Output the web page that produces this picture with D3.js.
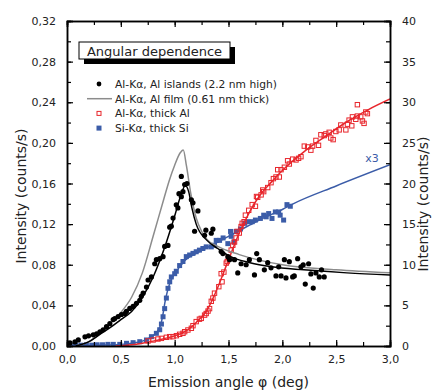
<!DOCTYPE html>
<html lang="en">
<head>
    <meta charset="UTF-8">
    <title>Angular dependence</title>
    <script src="https://d3js.org/d3.v7.min.js"></script>
    <style>
        body { margin: 0; background: #fff; }
        text { font-family: "DejaVu Sans", Verdana, sans-serif; fill: #222; }
    </style>
</head>
<body>
<svg id="chart" width="432" height="392"></svg>
<script>
// ---- data ----
// Al-Ka, Al islands (dots), left axis
var islandPhi = [0.028,0.074,0.105,0.167,0.20,0.244,0.275,0.306,0.336,0.367,0.398,0.429,0.444,0.475,0.506,0.537,0.552,0.583,0.614,0.645,0.676,0.69,0.707,0.738,0.753,0.784,0.815,0.83,0.861,0.892,0.907,0.938,0.954,0.969,0.985,1.015,1.03,1.04,1.062,1.062,1.077,1.093,1.114,1.155,1.17,1.185,1.216,1.278,1.29,1.34,1.355,1.432,1.448,1.494,1.51,1.556,1.586,1.617,1.664,1.694,1.741,1.762,1.787,1.833,1.864,1.895,1.941,1.966,1.988,2.019,2.034,2.065,2.096,2.111,2.142,2.173,2.194,2.213,2.244,2.265,2.287,2.312,2.343,2.364,2.389];
var islandI = [0.003,0.004,0.006,0.009,0.010,0.011,0.012,0.014,0.016,0.019,0.022,0.026,0.027,0.029,0.031,0.032,0.034,0.037,0.039,0.042,0.045,0.049,0.052,0.058,0.065,0.068,0.081,0.085,0.086,0.088,0.098,0.099,0.117,0.118,0.126,0.139,0.136,0.150,0.147,0.167,0.152,0.159,0.160,0.144,0.141,0.113,0.133,0.109,0.114,0.111,0.115,0.093,0.091,0.088,0.085,0.085,0.072,0.081,0.080,0.085,0.070,0.091,0.085,0.075,0.082,0.077,0.069,0.078,0.069,0.085,0.067,0.083,0.068,0.069,0.086,0.078,0.080,0.061,0.081,0.071,0.057,0.072,0.068,0.075,0.068];

// fit through the islands (black line), left axis
var islandFitPhi = [0.08,0.2,0.3,0.4,0.5,0.6,0.7,0.8,0.9,1.0,1.05,1.1,1.13,1.16,1.2,1.3,1.4,1.5,1.7,1.9,2.2,2.6,3.0];
var islandFitI = [0.000,0.004,0.011,0.018,0.026,0.034,0.048,0.068,0.095,0.128,0.146,0.158,0.152,0.136,0.120,0.104,0.096,0.089,0.082,0.078,0.075,0.072,0.070];

// Al film 0.61 nm (grey line), left axis
var filmPhi = [0.08,0.2,0.3,0.4,0.5,0.6,0.7,0.8,0.9,0.95,1.0,1.05,1.08,1.11,1.15,1.2,1.25,1.3,1.4,1.6,2.0,2.5,3.0];
var filmI = [0.000,0.004,0.012,0.022,0.033,0.048,0.072,0.108,0.145,0.163,0.178,0.190,0.193,0.177,0.150,0.126,0.113,0.105,0.098,0.090,0.080,0.075,0.072];

// Al-Ka, thick Al (open red squares), right axis
var alPhi = [0.753,0.80,0.845,0.877,0.923,0.954,0.985,1.016,1.046,1.077,1.093,1.123,1.155,1.17,1.2,1.23,1.247,1.278,1.293,1.31,1.324,1.34,1.355,1.37,1.41,1.432,1.44,1.457,1.479,1.488,1.50,1.525,1.54,1.556,1.571,1.58,1.60,1.617,1.627,1.645,1.657,1.688,1.72,1.75,1.76,1.771,1.803,1.818,1.827,1.864,1.895,1.917,1.941,1.957,1.972,1.988,2.019,2.049,2.065,2.096,2.127,2.151,2.173,2.204,2.235,2.265,2.281,2.312,2.336,2.358,2.389,2.404,2.435,2.45,2.472,2.497,2.528,2.543,2.59,2.605,2.62,2.645,2.651,2.682,2.697,2.697,2.728,2.744,2.759,2.775,2.79];
var alC = [0.62,0.74,0.86,0.94,1.07,1.15,1.15,1.27,1.44,1.56,1.76,1.97,2.18,2.5,3.0,3.3,3.4,3.8,4.0,4.3,4.6,5.5,5.9,6.5,7.3,8.9,7.9,9.1,10.2,10.4,10.9,11.8,12.4,12.8,13.3,14.1,13.9,14.7,15.1,15.3,16.1,16.7,17.4,17.2,18.4,18.3,18.6,19.2,19.0,19.5,20.1,20.6,20.8,21.7,20.8,21.7,22.0,22.8,22.4,23.0,22.9,23.1,23.3,24.6,24.5,24.1,24.6,25.3,24.7,26.0,25.9,26.1,26.3,25.6,25.4,26.4,26.6,27.2,26.6,27.3,27.8,27.1,28.2,27.9,28.3,29.7,28.2,27.7,27.4,28.8,28.6];
var alFitPhi = [0.45,0.6,0.7,0.8,0.9,1.0,1.1,1.2,1.3,1.4,1.5,1.6,1.7,1.8,1.9,2.0,2.2,2.4,2.6,2.8,3.0];
var alFitC = [0.0,0.15,0.35,0.6,0.9,1.25,1.8,2.9,4.4,7.2,10.6,13.9,16.6,18.7,20.2,21.6,23.9,25.8,27.6,29.1,30.4];

// Si-Ka, thick Si (filled blue squares), right axis
var siPhi = [0.03,0.08,0.13,0.18,0.23,0.28,0.33,0.38,0.43,0.49,0.553,0.614,0.676,0.738,0.784,0.83,0.861,0.877,0.892,0.907,0.923,0.938,0.954,0.969,1.0,1.015,1.046,1.077,1.108,1.139,1.17,1.2,1.23,1.262,1.293,1.34,1.37,1.386,1.417,1.45,1.494,1.519,1.525,1.55,1.571,1.611,1.651,1.68,1.72,1.75,1.796,1.827,1.85,1.873,1.904,1.935,1.966,1.98,2.012,2.043,2.074];
var siC = [0.1,0.1,0.1,0.15,0.1,0.15,0.15,0.2,0.2,0.2,0.33,0.41,0.53,0.74,1.15,1.56,2.0,2.7,3.6,4.6,5.9,7.1,7.9,8.5,8.9,9.2,9.9,10.4,11.0,11.2,11.4,11.6,11.8,12.0,12.2,12.2,12.4,13.0,13.0,13.3,12.6,14.1,13.5,12.8,14.1,14.4,15.1,15.3,15.3,15.5,15.7,16.1,15.9,16.3,15.7,16.5,16.5,16.1,15.5,17.4,17.2];
var siFitPhi = [0.0,0.3,0.5,0.6,0.7,0.78,0.84,0.87,0.89,0.91,0.93,0.96,1.0,1.05,1.1,1.2,1.3,1.4,1.5,1.6,1.7,1.8,1.9,2.0,2.1,2.5,3.0];
var siFitC = [0.05,0.1,0.2,0.35,0.6,1.1,1.8,2.6,3.8,5.4,6.6,7.9,8.9,9.8,10.6,11.4,12.1,12.8,13.5,14.2,14.9,15.6,16.2,16.8,17.5,19.7,22.3];

// ticks and labels
var xTicks = [0, 0.5, 1, 1.5, 2, 2.5, 3];
var leftTicks = [0, 0.04, 0.08, 0.12, 0.16, 0.20, 0.24, 0.28, 0.32];
var rightTicks = [0, 5, 10, 15, 20, 25, 30, 35, 40];
var legendLabels = ["Al-K\u03b1, Al islands (2.2 nm high)", "Al-K\u03b1, Al film (0.61 nm thick)", "Al-K\u03b1, thick Al", "Si-K\u03b1, thick Si"];

var black = "#000", grey = "#8c8c8c", red = "#e8262c", blue = "#3b5ca8";

var margin = { top: 21, right: 42, bottom: 46, left: 67 },
    width = 432 - margin.left - margin.right,
    height = 392 - margin.top - margin.bottom;

var svg = d3.select("#chart");
var g = svg.append("g").attr("transform", "translate(" + margin.left + "," + margin.top + ")");

var x = d3.scaleLinear().domain([0, 3]).range([0, width]);
var yL = d3.scaleLinear().domain([0, 0.32]).range([height, 0]);
var yR = d3.scaleLinear().domain([0, 40]).range([height, 0]);

var comma = function(f) { return function(d) { return d3.format(f)(d).replace(".", ","); }; };

// clip
g.append("clipPath").attr("id", "clip").append("rect").attr("width", width).attr("height", height);
var plot = g.append("g").attr("clip-path", "url(#clip)");

function zip(a, b) { return a.map(function(v, i) { return [v, b[i]]; }); }
function drawLine(px, py, ys, color, w) {
    plot.append("path")
        .datum(zip(px, py))
        .attr("fill", "none")
        .attr("stroke", color)
        .attr("stroke-width", w)
        .attr("d", d3.line().x(d => x(d[0])).y(d => ys(d[1])).curve(d3.curveMonotoneX));
}

// blue Si
drawLine(siFitPhi, siFitC, yR, blue, 1.5);
plot.selectAll("rect.si").data(zip(siPhi, siC)).enter().append("rect")
    .attr("class", "si")
    .attr("x", d => x(d[0]) - 2.5).attr("y", d => yR(d[1]) - 2.5)
    .attr("width", 5).attr("height", 5)
    .attr("fill", blue);

// red Al thick
drawLine(alFitPhi, alFitC, yR, red, 1.5);
plot.selectAll("rect.al").data(zip(alPhi, alC)).enter().append("rect")
    .attr("class", "al")
    .attr("x", d => x(d[0]) - 2.2).attr("y", d => yR(d[1]) - 2.2)
    .attr("width", 4.4).attr("height", 4.4)
    .attr("fill", "none").attr("stroke", red).attr("stroke-width", 1);

// grey film, black fit, black dots
drawLine(filmPhi, filmI, yL, grey, 1.5);
drawLine(islandFitPhi, islandFitI, yL, black, 1.5);
plot.selectAll("circle.isl").data(zip(islandPhi, islandI)).enter().append("circle")
    .attr("class", "isl")
    .attr("cx", d => x(d[0])).attr("cy", d => yL(d[1]))
    .attr("r", 2.6).attr("fill", black);

// x3 note
g.append("text").attr("x", x(2.77)).attr("y", yR(22.7))
    .style("font-size", "11px").style("fill", blue).text("x3");

// axes
var xMinor = d3.range(0, 3.01, 0.25);
var axBottom = g.append("g").attr("transform", "translate(0," + height + ")")
    .call(d3.axisBottom(x).tickValues(xMinor).tickSize(-4).tickFormat(""));
axBottom.append("g").call(d3.axisBottom(x).tickValues(xTicks).tickSize(-6).tickPadding(9).tickFormat(comma(".1f")));
var axTop = g.append("g").call(d3.axisTop(x).tickValues(xMinor).tickSize(-4).tickFormat(""));
axTop.append("g").call(d3.axisTop(x).tickValues(xTicks).tickSize(-6).tickFormat(""));

var axLeft = g.append("g").call(d3.axisLeft(yL).tickValues(d3.range(0, 0.321, 0.02)).tickSize(-4).tickFormat(""));
axLeft.append("g").call(d3.axisLeft(yL).tickValues(leftTicks).tickSize(-6).tickPadding(11).tickFormat(comma(".2f")));
var axRight = g.append("g").attr("transform", "translate(" + width + ",0)")
    .call(d3.axisRight(yR).tickValues(d3.range(0, 40.1, 2.5)).tickSize(-4).tickFormat(""));
axRight.append("g").call(d3.axisRight(yR).tickValues(rightTicks).tickSize(-6).tickPadding(12).tickFormat(d3.format("d")));

g.selectAll(".domain").attr("stroke", "#000").attr("stroke-width", 1.5);
g.selectAll(".tick line").attr("stroke", "#000").attr("stroke-width", 1.2);
g.selectAll(".tick text").style("font-size", "11px").style("fill", "#222")
    .style("font-family", "'DejaVu Sans', Verdana, sans-serif");

// axis titles
svg.append("text")
    .attr("x", margin.left + width / 2).attr("y", 387)
    .attr("text-anchor", "middle").style("font-size", "14px")
    .text("Emission angle \u03c6 (deg)");
svg.append("text")
    .attr("transform", "translate(26,196) rotate(-90)")
    .attr("text-anchor", "middle").style("font-size", "14px")
    .text("Intensity (counts/s)");
svg.append("text")
    .attr("transform", "translate(428,204) rotate(-90)")
    .attr("text-anchor", "middle").style("font-size", "14px")
    .text("Intensity (counts/s)");

// title box with shadow
svg.append("rect").attr("x", 84).attr("y", 47).attr("width", 151).attr("height", 17).attr("fill", "#000");
svg.append("rect").attr("x", 79).attr("y", 42).attr("width", 151).attr("height", 17)
    .attr("fill", "#fff").attr("stroke", "#000").attr("stroke-width", 1);
svg.append("text").attr("x", 154.5).attr("y", 56).attr("text-anchor", "middle")
    .style("font-size", "13px").text("Angular dependence");

// legend
var legend = svg.append("g").attr("transform", "translate(99,84)");
var rowGap = 14.7;
legend.append("circle").attr("cx", 0).attr("cy", 0).attr("r", 2.4).attr("fill", black);
legend.append("line").attr("x1", -12).attr("x2", 13).attr("y1", rowGap).attr("y2", rowGap)
    .attr("stroke", grey).attr("stroke-width", 1.5);
legend.append("rect").attr("x", -2).attr("y", 2 * rowGap - 2).attr("width", 4).attr("height", 4)
    .attr("fill", "none").attr("stroke", red).attr("stroke-width", 1);
legend.append("rect").attr("x", -2.5).attr("y", 3 * rowGap - 2.5).attr("width", 5).attr("height", 5)
    .attr("fill", blue);
legend.selectAll("text.lab").data(legendLabels).enter().append("text")
    .attr("class", "lab")
    .attr("x", 16).attr("y", (d, i) => i * rowGap + 4)
    .style("font-size", "10.7px")
    .text(d => d);
</script>
</body>
</html>
